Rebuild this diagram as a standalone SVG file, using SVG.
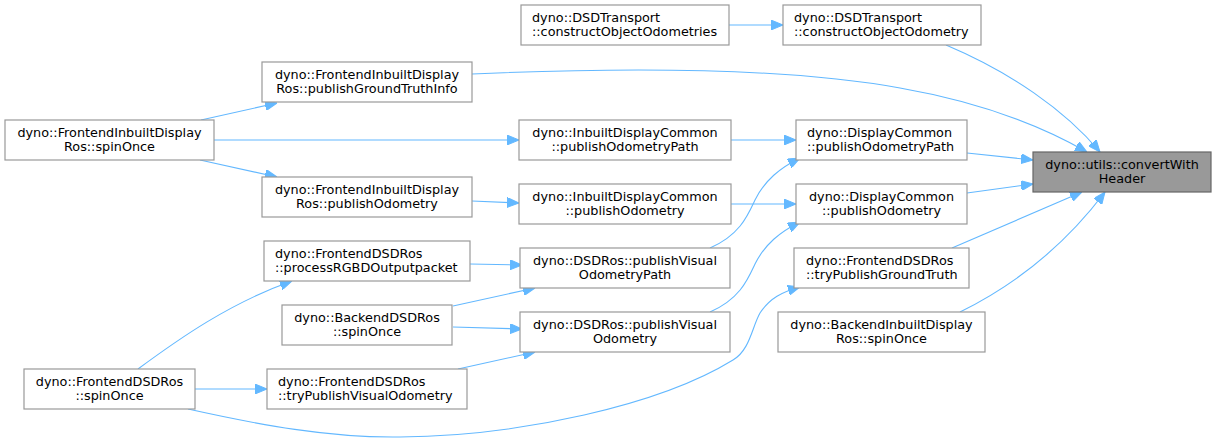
<svg xmlns="http://www.w3.org/2000/svg" width="1216" height="443" viewBox="0 0 1216 443">
<defs>
<style>
.n rect{fill:#ffffff;stroke:#999999;stroke-width:1.2}
.t rect{fill:#999999;stroke:#666666;stroke-width:1.2}
text{font-family:"DejaVu Sans","Liberation Sans",sans-serif;font-size:12.8px;fill:#000;text-anchor:middle}
text.l{text-anchor:start}
.e path{fill:none;stroke:#63b8ff;stroke-width:1.1;marker-end:url(#ah)}
</style>
<marker id="ah" viewBox="0 0 12 10" refX="12" refY="5" markerWidth="12" markerHeight="10" markerUnits="userSpaceOnUse" orient="auto">
<path d="M0,0 L12,5 L0,10 z" fill="#63b8ff" stroke="#63b8ff" stroke-width="1"/>
</marker>
</defs>
<rect width="1216" height="443" fill="#ffffff"/>
<g id="edges" class="e">
<path d="M729,25 L783,25"/>
<path d="M946,45 C1010,72 1065,110 1100,152"/>
<path d="M472,74 C650,66 800,70 900,88 C980,102 1040,125 1087,152"/>
<path d="M201,120 L277,103"/>
<path d="M214,140 L519,140"/>
<path d="M200,160 L277,177"/>
<path d="M472,201 L519,203"/>
<path d="M731,140 L796,140"/>
<path d="M731,204 L796,204"/>
<path d="M967,153 L1033,160"/>
<path d="M967,193 L1033,184"/>
<path d="M710,248 C740,235 748,215 755,200 C765,180 780,168 800,158"/>
<path d="M710,312 C740,299 748,279 755,264 C765,244 780,232 800,222"/>
<path d="M952,248 L1082,192"/>
<path d="M960,312 C1015,285 1065,245 1105,192"/>
<path d="M470,264 L522,265"/>
<path d="M453,306 L535,288"/>
<path d="M453,327 L522,329"/>
<path d="M138,369 C180,338 230,303 292,281"/>
<path d="M195,389 L267,389"/>
<path d="M458,369 L535,352"/>
<path d="M188,409 C260,425 330,438 400,437 C520,436 660,405 733,360 C750,350 752,327 760,313 C770,298 782,292 800,287"/>
</g>
<g id="n0" class="t"><rect x="1033" y="152" width="178" height="40"/><text x="1122" y="169">dyno::utils::convertWith</text><text x="1122" y="183">Header</text></g>
<g id="n1" class="n"><rect x="521" y="5" width="208" height="40"/><text class="l" x="532" y="22">dyno::DSDTransport</text><text class="l" x="532" y="36">::constructObjectOdometries</text></g>
<g id="n2" class="n"><rect x="783" y="5" width="198" height="40"/><text class="l" x="794" y="22">dyno::DSDTransport</text><text class="l" x="794" y="36">::constructObjectOdometry</text></g>
<g id="n3" class="n"><rect x="262" y="62" width="210" height="40"/><text x="367" y="79">dyno::FrontendInbuiltDisplay</text><text x="367" y="93">Ros::publishGroundTruthInfo</text></g>
<g id="n4" class="n"><rect x="5" y="120" width="209" height="40"/><text x="109.5" y="137">dyno::FrontendInbuiltDisplay</text><text x="109.5" y="151">Ros::spinOnce</text></g>
<g id="n5" class="n"><rect x="262" y="177" width="210" height="40"/><text x="367" y="194">dyno::FrontendInbuiltDisplay</text><text x="367" y="208">Ros::publishOdometry</text></g>
<g id="n6" class="n"><rect x="519" y="120" width="212" height="40"/><text x="625" y="137">dyno::InbuiltDisplayCommon</text><text x="625" y="151">::publishOdometryPath</text></g>
<g id="n7" class="n"><rect x="519" y="184" width="212" height="40"/><text x="625" y="201">dyno::InbuiltDisplayCommon</text><text x="625" y="215">::publishOdometry</text></g>
<g id="n8" class="n"><rect x="796" y="120" width="171" height="40"/><text class="l" x="807" y="137">dyno::DisplayCommon</text><text class="l" x="807" y="151">::publishOdometryPath</text></g>
<g id="n9" class="n"><rect x="796" y="184" width="171" height="40"/><text x="881.5" y="201">dyno::DisplayCommon</text><text x="881.5" y="215">::publishOdometry</text></g>
<g id="n10" class="n"><rect x="264" y="241" width="206" height="40"/><text class="l" x="275" y="258">dyno::FrontendDSDRos</text><text class="l" x="275" y="272">::processRGBDOutputpacket</text></g>
<g id="n11" class="n"><rect x="282" y="305" width="170" height="40"/><text x="367" y="322">dyno::BackendDSDRos</text><text x="367" y="336">::spinOnce</text></g>
<g id="n12" class="n"><rect x="24" y="369" width="171" height="40"/><text x="109.5" y="386">dyno::FrontendDSDRos</text><text x="109.5" y="400">::spinOnce</text></g>
<g id="n13" class="n"><rect x="267" y="369" width="200" height="40"/><text class="l" x="278" y="386">dyno::FrontendDSDRos</text><text class="l" x="278" y="400">::tryPublishVisualOdometry</text></g>
<g id="n14" class="n"><rect x="520" y="248" width="210" height="40"/><text x="625" y="265">dyno::DSDRos::publishVisual</text><text x="625" y="279">OdometryPath</text></g>
<g id="n15" class="n"><rect x="520" y="312" width="210" height="40"/><text x="625" y="329">dyno::DSDRos::publishVisual</text><text x="625" y="343">Odometry</text></g>
<g id="n16" class="n"><rect x="794" y="248" width="175" height="40"/><text class="l" x="806" y="265">dyno::FrontendDSDRos</text><text class="l" x="806" y="279">::tryPublishGroundTruth</text></g>
<g id="n17" class="n"><rect x="778" y="312" width="207" height="40"/><text x="881.5" y="329">dyno::BackendInbuiltDisplay</text><text x="881.5" y="343">Ros::spinOnce</text></g>
</svg>
